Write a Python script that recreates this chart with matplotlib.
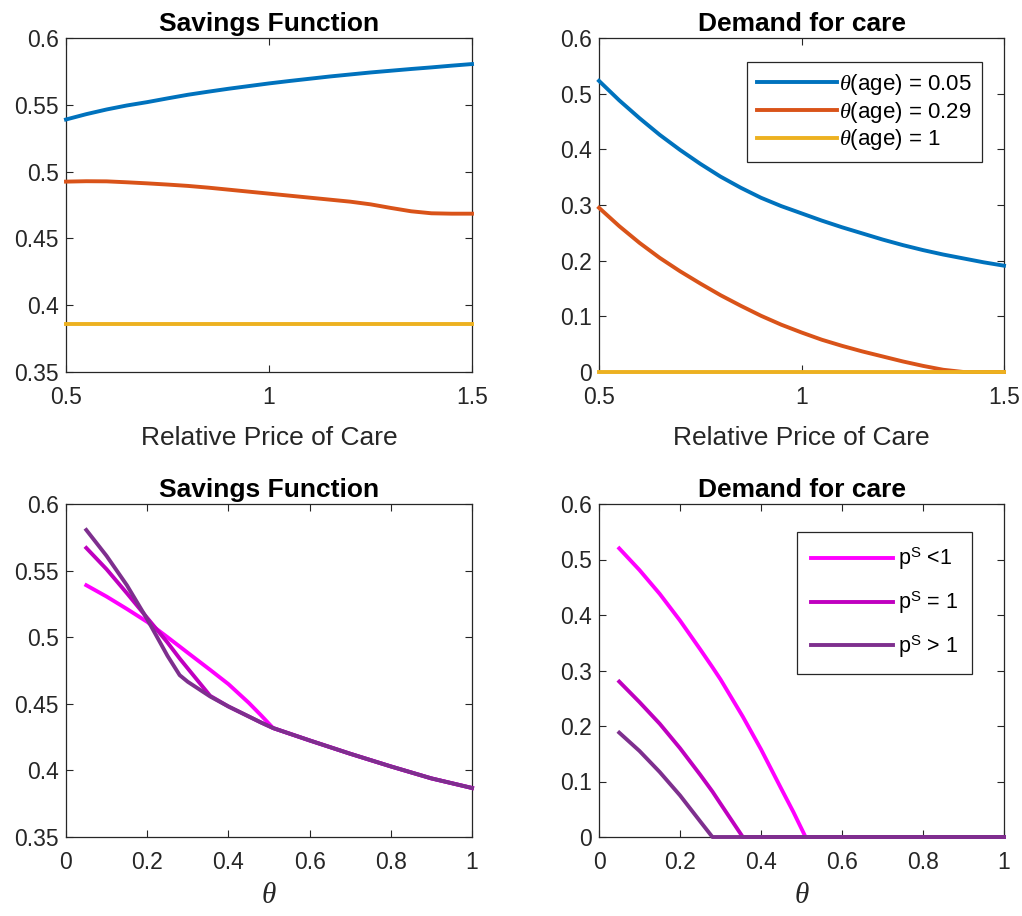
import matplotlib
matplotlib.use("Agg")
import matplotlib.pyplot as plt

plt.rcParams["font.family"] = ["Liberation Sans", "DejaVu Sans"]
plt.rcParams["mathtext.fontset"] = "custom"
plt.rcParams["mathtext.rm"] = "Liberation Sans"
plt.rcParams["mathtext.sf"] = "Liberation Sans"
plt.rcParams["mathtext.it"] = "Liberation Serif:italic"

# top row: relative price of care
price = [0.5, 0.55, 0.6, 0.65, 0.7, 0.75, 0.8, 0.85, 0.9, 0.95, 1.0,
         1.05, 1.1, 1.15, 1.2, 1.25, 1.3, 1.35, 1.4, 1.45, 1.5]
save_005 = [0.539, 0.543, 0.5465, 0.5495, 0.552, 0.5548, 0.5575, 0.5598, 0.562, 0.564, 0.566,
            0.5678, 0.5695, 0.5712, 0.5727, 0.5742, 0.5755, 0.5768, 0.578, 0.5793, 0.5805]
save_029 = [0.4925, 0.4928, 0.4927, 0.492, 0.4912, 0.4903, 0.4893, 0.488, 0.4865, 0.485, 0.4835,
            0.482, 0.4805, 0.479, 0.4775, 0.4755, 0.4728, 0.4703, 0.4688, 0.4685, 0.4685]
save_1 = [0.386] * 21
care_005 = [0.523, 0.488, 0.456, 0.426, 0.399, 0.374, 0.351, 0.331, 0.313, 0.298, 0.285,
            0.272, 0.26, 0.249, 0.238, 0.228, 0.219, 0.211, 0.204, 0.197, 0.191]
care_029 = [0.295, 0.262, 0.232, 0.205, 0.181, 0.159, 0.138, 0.119, 0.101, 0.085, 0.071,
            0.058, 0.047, 0.037, 0.028, 0.019, 0.011, 0.004, 0.0, 0.0, 0.0]
care_1 = [0.0] * 21
top_labels = [r"$\theta$(age) = 0.05", r"$\theta$(age) = 0.29", r"$\theta$(age) = 1"]

# bottom row: theta
theta = [0.05, 0.1, 0.15, 0.2, 0.25, 0.28, 0.3, 0.355, 0.4, 0.45, 0.48, 0.51,
         0.6, 0.7, 0.8, 0.9, 1.0]
common = [0.4225, 0.4125, 0.403, 0.394, 0.3868]
save_plow = [0.539, 0.5305, 0.5212, 0.5115, 0.500, 0.493, 0.4883, 0.4755, 0.4648, 0.4508,
             0.4415, 0.4318] + common
save_peq = [0.567, 0.551, 0.533, 0.5145, 0.496, 0.484, 0.4765, 0.456, 0.448, 0.4405,
            0.436, 0.4318] + common
save_phigh = [0.5805, 0.561, 0.539, 0.5135, 0.486, 0.4715, 0.4665, 0.4555, 0.448, 0.4405,
              0.436, 0.4318] + common
care_plow = [0.52, 0.481, 0.438, 0.39, 0.338, 0.306, 0.284, 0.217, 0.158, 0.087,
             0.045, 0.0, 0, 0, 0, 0, 0]
care_peq = [0.28, 0.243, 0.204, 0.16, 0.112, 0.082, 0.06, 0.0, 0, 0,
            0, 0, 0, 0, 0, 0, 0]
care_phigh = [0.188, 0.155, 0.117, 0.075, 0.028, 0.0, 0, 0, 0, 0,
              0, 0, 0, 0, 0, 0, 0]
bot_labels = [r"p$^{\mathrm{S}}$ <1", r"p$^{\mathrm{S}}$ = 1", r"p$^{\mathrm{S}}$ > 1"]

top_colors = ["#0072BD", "#D95319", "#EDB120"]
bot_colors = ["#FF00FF", "#BF00BF", "#7E2F8E"]
LW = 2.8
AX = "#262626"

fig = plt.figure(figsize=(10.22, 9.16), dpi=100)
W, H = 1022, 916
def box(l, t, r, b):
    return [l / W, 1 - b / H, (r - l) / W, (b - t) / H]

ax1 = fig.add_axes(box(66, 38, 472, 372))
ax2 = fig.add_axes(box(599, 38, 1004, 372))
ax3 = fig.add_axes(box(66, 504, 472, 837))
ax4 = fig.add_axes(box(599, 504, 1004, 837))

for ys, c in zip([save_005, save_029, save_1], top_colors):
    ax1.plot(price, ys, color=c, lw=LW, clip_on=False, zorder=3)
for ys, c, lab in zip([care_005, care_029, care_1], top_colors, top_labels):
    ax2.plot(price, ys, color=c, lw=LW, label=lab, clip_on=False, zorder=3)
for ys, c in zip([save_plow, save_peq, save_phigh], bot_colors):
    ax3.plot(theta, ys, color=c, lw=LW, clip_on=False, zorder=3)
for ys, c, lab in zip([care_plow, care_peq, care_phigh], bot_colors, bot_labels):
    ax4.plot(theta, ys, color=c, lw=LW, label=lab, clip_on=False, zorder=3)

for ax in (ax1, ax2):
    ax.set_xlim(0.5, 1.5)
    ax.set_xticks([0.5, 1, 1.5])
    ax.set_xticklabels(["0.5", "1", "1.5"])
    ax.set_xlabel("Relative Price of Care", fontsize=19, color=AX, labelpad=12)
for ax in (ax3, ax4):
    ax.set_xlim(0, 1)
    ax.set_xticks([0, 0.2, 0.4, 0.6, 0.8, 1])
    ax.set_xticklabels(["0", "0.2", "0.4", "0.6", "0.8", "1"])
    ax.set_xlabel(r"$\theta$", fontsize=21, color=AX, labelpad=5)
for ax in (ax1, ax3):
    ax.set_ylim(0.35, 0.6)
    ax.set_yticks([0.35, 0.4, 0.45, 0.5, 0.55, 0.6])
    ax.set_yticklabels(["0.35", "0.4", "0.45", "0.5", "0.55", "0.6"])
    ax.set_title("Savings Function", fontsize=19, fontweight="bold", pad=5)
for ax in (ax2, ax4):
    ax.set_ylim(0, 0.6)
    ax.set_yticks([0, 0.1, 0.2, 0.3, 0.4, 0.5, 0.6])
    ax.set_yticklabels(["0", "0.1", "0.2", "0.3", "0.4", "0.5", "0.6"])
    ax.set_title("Demand for care", fontsize=19, fontweight="bold", pad=5)

for ax in (ax1, ax2, ax3, ax4):
    ax.tick_params(direction="in", length=5, width=0.8, top=True, right=True,
                   labelsize=16.5, colors=AX)
    ax.tick_params(axis="x", pad=10)
    ax.tick_params(axis="y", pad=5)
    for s in ax.spines.values():
        s.set_color(AX)
        s.set_linewidth(0.9)

leg = ax2.legend(loc="upper right", bbox_to_anchor=(0.946, 0.928), borderaxespad=0,
                 fontsize=16, handlelength=3.6, handletextpad=0.1, labelspacing=0.12,
                 fancybox=False, framealpha=1, edgecolor=AX, borderpad=0.45)
leg.get_frame().set_linewidth(0.9)
leg.set_zorder(5)
leg = ax4.legend(loc="upper right", bbox_to_anchor=(0.921, 0.916), borderaxespad=0,
                 fontsize=15.5, handlelength=3.8, handletextpad=0.25, labelspacing=0.8,
                 fancybox=False, framealpha=1, edgecolor=AX, borderpad=0.65)
leg.get_frame().set_linewidth(0.9)
leg.set_zorder(5)

fig.savefig("out.png", dpi=100)
